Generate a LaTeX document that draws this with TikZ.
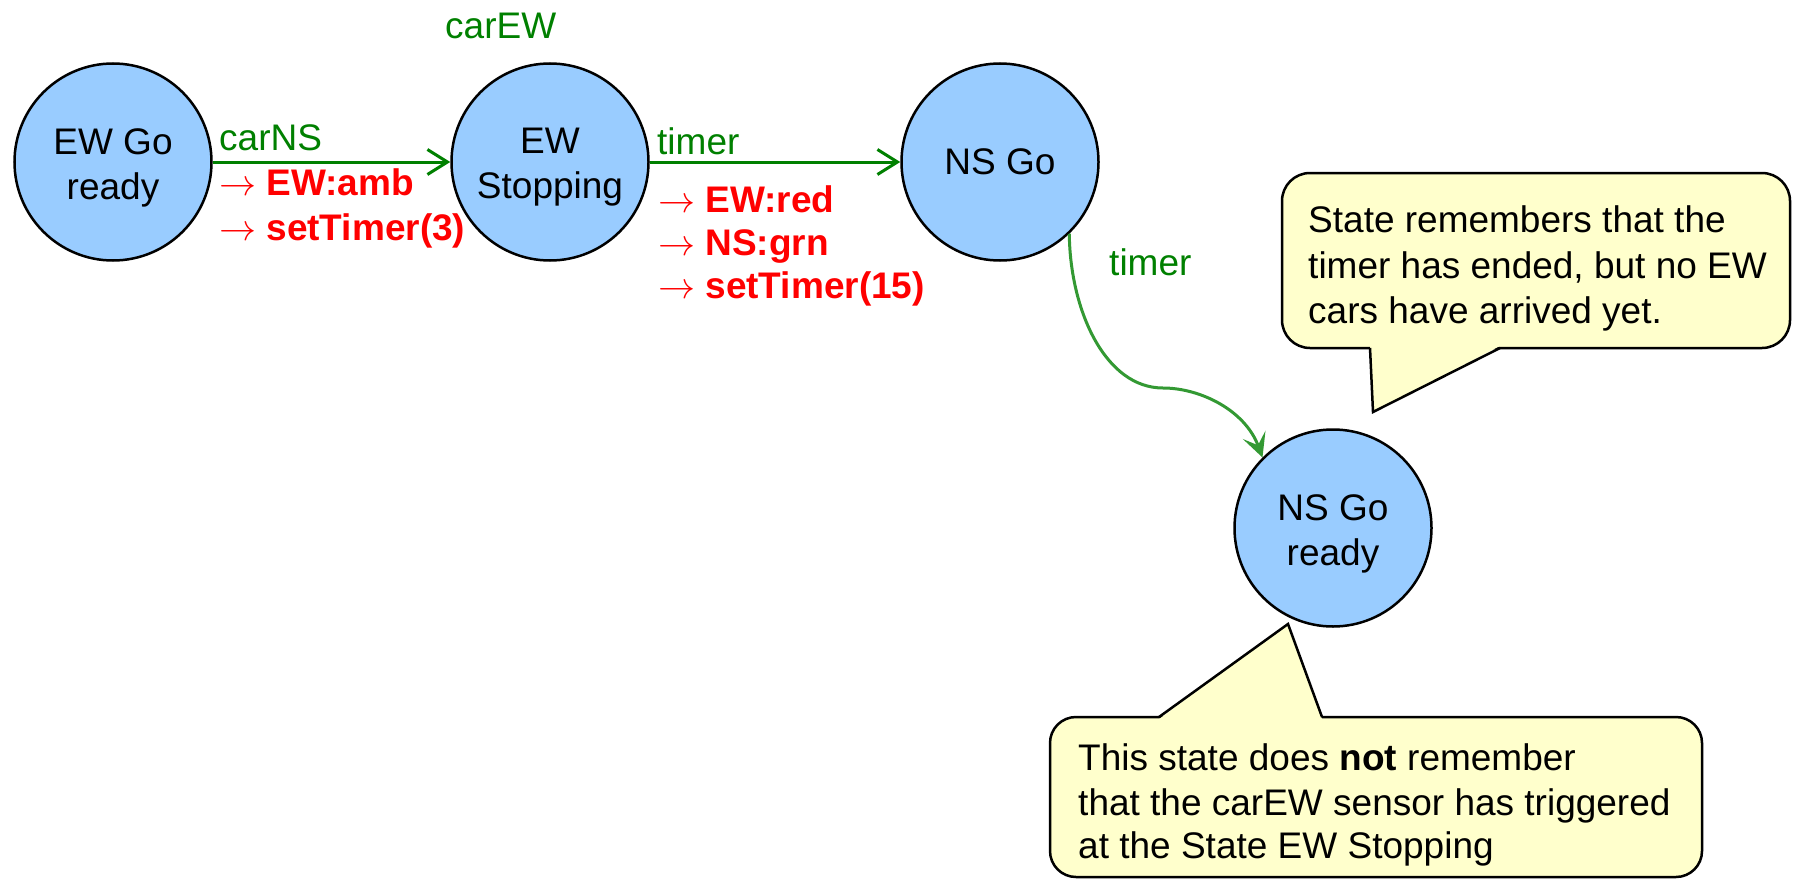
\RequirePackage{fix-cm}
\documentclass[tikz,border=0pt]{standalone}
\usepackage{fontspec}
\setmainfont{Liberation Sans}
\usetikzlibrary{arrows.meta}

\definecolor{statefill}{RGB}{153,204,255}
\definecolor{notefill}{RGB}{255,255,204}
\definecolor{evgreen}{RGB}{0,128,0}
\definecolor{curvegreen}{RGB}{51,153,51}
\definecolor{actred}{RGB}{255,0,0}

\begin{document}
\begin{tikzpicture}[x=1pt,y=-1pt,
  state/.style={circle, draw=black, line width=2.5pt, fill=statefill,
    minimum size=197pt, inner sep=0pt, align=center,
    font=\fontsize{37}{45}\selectfont},
  statename/.style={align=center, yshift=-5.5pt, inner sep=0pt,
    font=\fontsize{37}{45}\selectfont},
  evt/.style={text=evgreen, font=\fontsize{37}{45}\selectfont,
    inner sep=0pt, anchor=base west},
  act/.style={text=actred, font=\fontsize{37}{45}\selectfont\bfseries,
    inner sep=0pt, anchor=base west},
  notetext/.style={font=\fontsize{37}{45}\selectfont, inner sep=0pt,
    anchor=base west},
  trans/.style={draw=evgreen, line width=3pt,
    -{Straight Barb[length=20pt,width=25pt]}},
  bubble/.style={draw=black, line width=2.5pt, fill=notefill},
  pointer/.style={draw=black, line width=2.5pt, line join=miter},
]
\useasboundingbox (0,0) rectangle (1793,880);

% states
\node[state, label={[statename]center:EW Go\\ready}]   (ewgo)      at (113,162)  {};
\node[state, label={[statename]center:EW\\Stopping}]   (ewstop)    at (550,162)  {};
\node[state]                                           (nsgo)      at (1000,162) {NS Go};
\node[state, label={[statename]center:NS Go\\ready}]   (nsgoready) at (1333,528) {};

% transitions
\draw[trans] (ewgo) -- (ewstop);
\draw[trans] (ewstop) -- (nsgo);
\coordinate (bend) at (1163,388);
\draw[draw=curvegreen, line width=3pt,
      -{Stealth[length=24pt,width=24pt,inset=11pt]}]
  (nsgo.-46) .. controls (1070,310) and (1105,388) .. (bend)
             .. controls (1200,388) and (1245,410) .. (nsgoready.135);

% events
\node[evt] (lcarew)  at (445,39)   {carEW};
\node[evt] (lcarns)  at (219,150)  {carNS};
\node[evt] (ltimera) at (657,154)  {timer};
\node[evt] (ltimerb) at (1109,275) {timer};

% actions
\node[act] (acta) at (219,195) {$\rightarrow$ EW:amb};
\node[act] (actb) at (219,240) {$\rightarrow$ setTimer(3)};
\node[act] (actc) at (658,212) {$\rightarrow$ EW:red};
\node[act] (actd) at (658,255) {$\rightarrow$ NS:grn};
\node[act] (acte) at (658,298) {$\rightarrow$ setTimer(15)};

% upper note
\draw[bubble, rounded corners=28pt] (1282,173) rectangle (1790,348);
\fill[notefill] (1370,346) -- (1373,412) -- (1500,346) -- cycle;
\draw[pointer] (1370,348) -- (1373,412) -- (1500,348);
\node[notetext] (nta) at (1308,232) {State remembers that the};
\node[notetext] (ntb) at (1308,278) {timer has ended, but no EW};
\node[notetext] (ntc) at (1308,323) {cars have arrived yet.};

% lower note
\draw[bubble, rounded corners=26pt] (1050,717) rectangle (1702,877);
\fill[notefill] (1159,719) -- (1288,624) -- (1322,719) -- cycle;
\draw[pointer] (1159,717) -- (1288,624) -- (1322,717);
\node[notetext] (nba) at (1078,770) {This state does \textbf{not} remember};
\node[notetext] (nbb) at (1078,815) {that the carEW sensor has triggered};
\node[notetext] (nbc) at (1078,858) {at the State EW Stopping};
\end{tikzpicture}
\end{document}
